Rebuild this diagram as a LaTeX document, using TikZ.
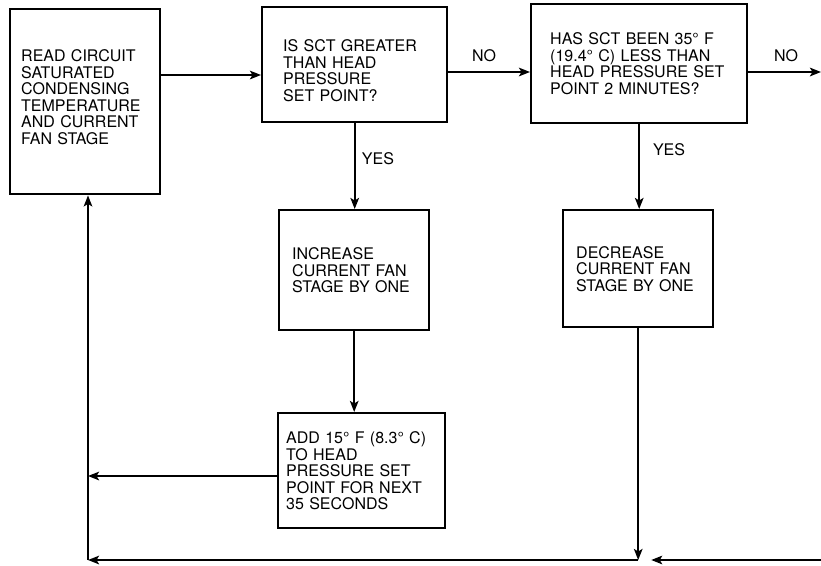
\documentclass[tikz,border=0pt]{standalone}
\usepackage{fontspec}
\setmainfont{TeX Gyre Heros}
\usepackage{tikz}
\usetikzlibrary{arrows.meta,positioning}

\begin{document}
\begin{tikzpicture}[
				x = 1pt, y = -1pt,
				line width = 2.4pt,
				box/.style = {draw, rectangle, anchor = north west, align = left,
					font = \fontsize{16}{16.5}\selectfont, inner ysep = 0pt},
				lbl/.style = {font = \fontsize{16}{16.5}\selectfont},
				arr/.style = {-{Stealth[length=11pt,width=8.5pt,inset=2.5pt]}}
			]

			\useasboundingbox (0,0) rectangle (821,565);

			% boxes
			\node[box, minimum width=150pt, minimum height=185pt, text width=128pt, inner xsep=11pt, text depth=92pt] (read) at (9,8)
				{READ CIRCUIT\\SATURATED\\CONDENSING\\TEMPERATURE\\AND CURRENT\\FAN STAGE};
			\node[box, minimum width=185pt, minimum height=115pt, text width=143pt, inner xsep=21pt, text depth=38pt] (greater) at (261,6)
				{IS SCT GREATER\\THAN HEAD\\PRESSURE\\SET POINT?};
			\node[box, minimum width=216pt, minimum height=119pt, text width=178pt, inner xsep=19pt] (less) at (530,3)
				{HAS SCT BEEN 35\textdegree\ F\\(19.4\textdegree\ C) LESS THAN\\HEAD PRESSURE SET\\POINT 2 MINUTES?};
			\node[box, minimum width=150pt, minimum height=120pt, text width=124pt, inner xsep=13pt] (inc) at (278,209)
				{INCREASE\\CURRENT FAN\\STAGE BY ONE};
			\node[box, minimum width=150pt, minimum height=117pt, text width=124pt, inner xsep=13pt] (dec) at (562,209)
				{DECREASE\\CURRENT FAN\\STAGE BY ONE};
			\node[box, minimum width=167pt, minimum height=115pt, text width=151pt, inner xsep=8pt] (add) at (277,412)
				{ADD 15\textdegree\ F (8.3\textdegree\ C)\\TO HEAD\\PRESSURE SET\\POINT FOR NEXT\\35 SECONDS};

			% helper coordinates
			\coordinate (row1) at (0,75);
			\coordinate (row2) at (0,72);
			\coordinate (row3) at (0,476);
			\coordinate (lc) at (88,560);
			\coordinate (rc) at (821,560);
			\coordinate (noend) at (821,72);

			% connectors
			\draw[arr] (read.east |- row1) -- (greater.west |- row1);
			\draw[arr] (greater.east |- row2) -- (less.west |- row2);
			\draw[arr] (less.east |- row2) -- (noend);
			\draw[arr] (greater.south) -- (greater.south |- inc.north);
			\draw[arr] (less.south) -- (less.south |- dec.north);
			\draw[arr] (inc.south) -- (inc.south |- add.north);
			\draw[arr] (add.west |- row3) -- (lc |- row3);
			\draw[arr] (dec.south) -- (dec.south |- lc);
			\draw[arr] (rc) -- ([xshift=13pt]dec.south |- lc);
			\draw[arr] (dec.south |- lc) -- (lc);
			\draw[arr] (lc) -- (lc |- read.south);

			% labels
			\node[lbl] (no1) at (484,56) {NO};
			\node[lbl] (no2) at (786,56) {NO};
			\node[lbl] (yes1) at (378,159) {YES};
			\node[lbl] (yes2) at (669,150) {YES};

			\end{tikzpicture}
\end{document}
